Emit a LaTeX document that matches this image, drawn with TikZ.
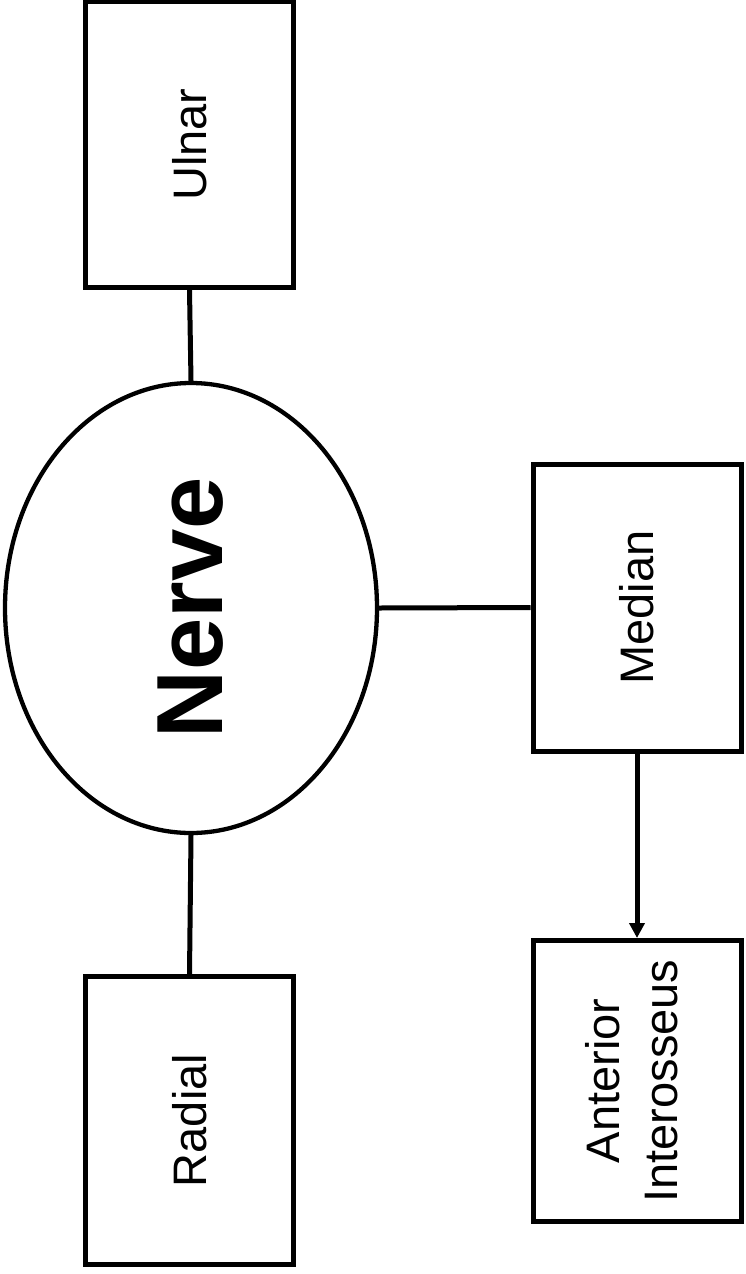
\documentclass[tikz,border=0pt]{standalone}
\usepackage{fontspec}
\setmainfont{Liberation Sans}
\usetikzlibrary{shapes.geometric,arrows.meta}
\tikzset{
  nbox/.style={draw=black, line width=5pt, rectangle, minimum width=208pt, inner sep=0pt, font=\fontsize{47}{58}\selectfont},
  nerveshape/.style={draw=black, line width=4.3pt, ellipse, minimum width=372pt, minimum height=450pt, inner sep=0pt, font=\fontsize{94}{110}\selectfont\bfseries},
  link/.style={draw=black, line width=5pt},
  arrowlink/.style={link, -{Triangle[length=15pt,width=15pt]}}
}
\begin{document}
\begin{tikzpicture}[x=1pt,y=-1pt]
\useasboundingbox (0,0) rectangle (746,1274);
\node[nbox, minimum height=286pt] (ulnar) at (189.5,144.5) {\rotatebox{90}{Ulnar}};
\node[nerveshape] (nerve) at (191,608) {\rotatebox{90}{Nerve}};
\node[nbox, minimum height=287pt] (median) at (637,607.5) {\rotatebox{90}{Median}};
\node[nbox, minimum height=288pt] (radial) at (189.5,1120.5) {\rotatebox{90}{Radial}};
\node[nbox, minimum height=281pt] (ant) at (637,1081) {\rotatebox{90}{\begin{tabular}{@{}c@{}}Anterior\\Interosseus\end{tabular}}};
\draw[link] (ulnar.south) -- (nerve.north);
\draw[link] (nerve.east) -- (median.west);
\draw[link] (nerve.south) -- (radial.north);
\draw[arrowlink] (median.south) -- (ant.north);
\end{tikzpicture}
\end{document}
